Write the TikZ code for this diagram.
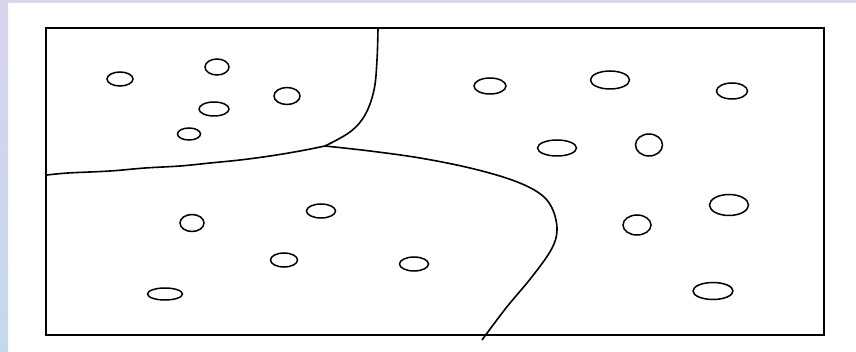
\documentclass[tikz,border=0pt]{standalone}
\usepackage{xcolor}
\usepackage{tikz}
\definecolor{lavender}{RGB}{218,212,238}
\definecolor{paleblue}{RGB}{196,218,236}

\begin{document}
\begin{tikzpicture}[x=1pt,y=-1pt]
        \useasboundingbox (0,0) rectangle (856,352);
        % slide background
        \fill[white] (0,0) rectangle (856,352);
        \shade[top color=lavender,bottom color=paleblue] (0,0) rectangle (8,352);
        \fill[lavender] (0,0) rectangle (856,3);
        % frame
        \draw[line width=2.5pt] (46,28) rectangle (824,335);
        % region borders
        \draw[line width=1.6pt] plot[smooth,tension=0.6] coordinates
             {(378,28) (377,60) (374,90) (365,115) (350,132) (325,146)};
        \draw[line width=1.6pt] plot[smooth,tension=0.6] coordinates
             {(47,175) (68,173) (110,171) (145,168) (180,166) (210,163) (240,160) (270,156) (300,151) (325,146)};
        \draw[line width=1.6pt] plot[smooth,tension=0.6] coordinates
             {(325,146) (370,151) (420,158) (470,168) (512,180) (539,193) (552,208) (557,230)
              (551,250) (531,278) (506,308) (482,340)};
        % points
        \foreach \cx/\cy/\rx/\ry in {120/79/13/7, 217/67/12/8, 214/109/15/7, 287/96/13/8.5, 189/134/11.5/6,
              490/86/16/8, 610/80/19.5/9, 732/91/15.5/8, 557/148/19.5/8, 649/145/13.5/11,
              192/223/12/8.5, 321/211/14.5/7, 284/260/13.5/7, 414/264/14.5/7, 165/294/17.5/6,
              637/225/14/10, 729/205/19.5/10.5, 713/291/20/8.5}{
          \draw[line width=1.5pt] (\cx,\cy) ellipse ({\rx} and {\ry});
        }
      \end{tikzpicture}
\end{document}
